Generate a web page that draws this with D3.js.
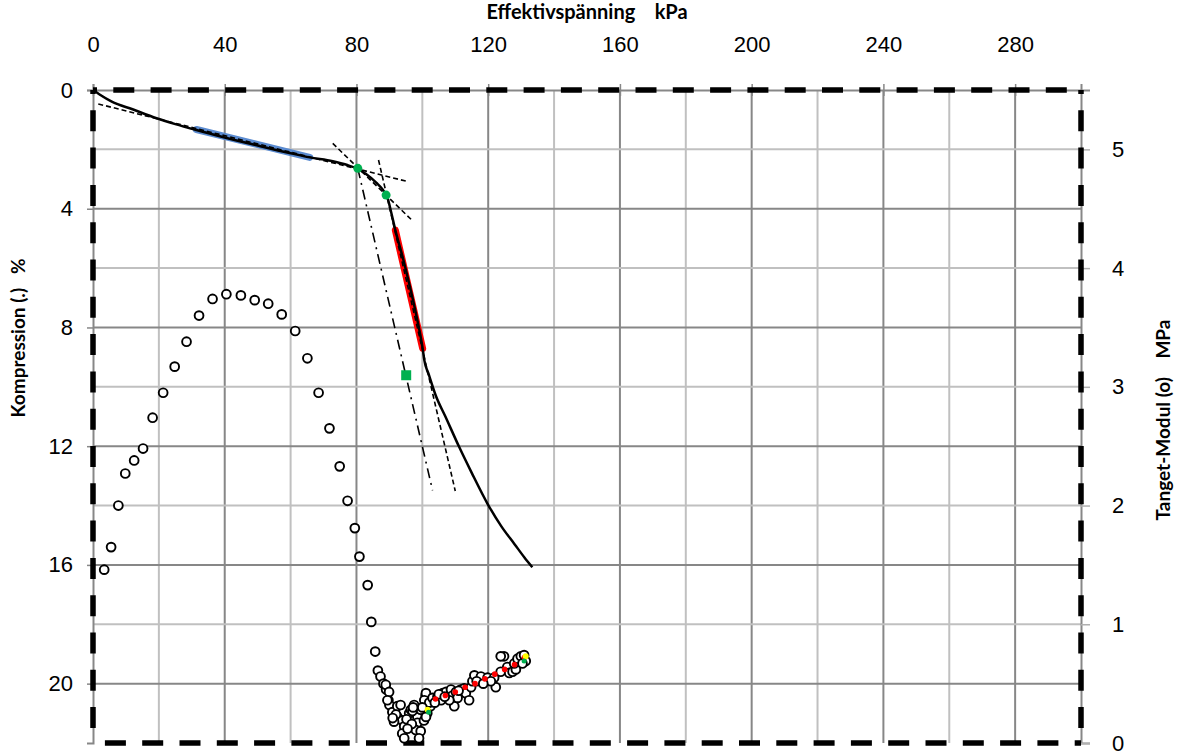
<!DOCTYPE html>
<html>
<head>
<meta charset="utf-8">
<script src="https://cdn.jsdelivr.net/npm/d3@7"></script>
<style>
  body { margin: 0; background: #fff; }
  svg { font-family: Lato, "Open Sans", sans-serif; }
</style>
</head>
<body>
<div class="main"></div>
<script>
// compression curve (kPa, %)
const curveStress = [0, 2, 5.7, 12, 19.3, 25, 31.4, 40, 50, 60, 65.8, 72.8, 77, 80.4, 83, 86, 88, 89.5, 90.5, 91.8, 94, 96, 98, 100.1, 100.6, 102, 104.1, 107, 111.2, 115, 119.8, 124, 128, 131, 133.4];
const curveComp   = [0, 0.15, 0.39, 0.65, 0.95, 1.15, 1.35, 1.6, 1.87, 2.13, 2.27, 2.4, 2.52, 2.66, 2.84, 3.12, 3.36, 3.66, 4.1, 4.72, 5.62, 6.52, 7.5, 8.71, 9.1, 9.6, 10.3, 11.0, 12.03, 12.9, 13.94, 14.7, 15.3, 15.75, 16.08];

// highlighted segments
const blueStress = [31.4, 65.8];
const blueComp   = [1.33, 2.27];
const redStress  = [91.8, 100.1];
const redComp    = [4.72, 8.71];

// construction lines
const line1Stress = [1.6, 95];     const line1Comp = [0.47, 3.07];
const line2Stress = [72.8, 96.6];  const line2Comp = [1.8, 4.36];
const line3Stress = [86.7, 110];   const line3Comp = [2.36, 13.51];
const dashDotStress = [80.4, 103.1]; const dashDotComp = [2.64, 13.49];

// green markers
const greenStress = [80.4, 89.0];
const greenComp   = [2.64, 3.54];
const squareStress = [95.1];
const squareComp   = [9.61];

// tangent modulus (kPa, MPa)
const modStress = [3.4, 5.5, 7.7, 9.8, 12.5, 15.2, 18.1, 21.3, 24.8, 28.4, 32.2, 36.3, 40.5, 44.9, 49.1, 53.2, 57.3, 61.4, 65.1, 68.5, 71.8, 74.9, 77.3, 79.5, 80.9, 83.4, 84.5, 85.7, 86.5, 87.3, 88.2, 89.0, 89.7, 90.0,
  88.9, 89.9, 89.4, 90.9, 92.4, 93.4, 92.4, 93.9, 91.4, 94.5, 93.9, 94.5, 96.0, 96.5, 97.5, 98.5, 98.5, 98.0, 99.5, 99.0, 101.0, 102.0, 102.5, 101.5, 100.5, 99.5,
  101.1, 100.6, 102.1, 101.1, 103.1, 104.6, 106.2, 107.2, 108.7, 109.2, 110.2, 109.7, 111.7, 112.7, 113.2, 114.2, 114.8, 115.2, 115.8, 110.7, 108.2, 105.7,
  117.8, 119.8, 121.8, 122.3, 120.8, 123.8, 124.8, 123.8, 125.8, 126.4, 127.4, 128.4, 127.9, 128.9, 129.9, 130.9, 131.4, 130.4,
  95.2, 96.8, 97.0, 95.5, 92.0, 91.0, 97.2, 100.0, 103.8, 105.0, 106.8, 111.0, 116.5, 118.5];
const modValue = [1.46, 1.65, 2.00, 2.27, 2.38, 2.48, 2.74, 2.95, 3.17, 3.38, 3.60, 3.74, 3.78, 3.77, 3.73, 3.70, 3.61, 3.47, 3.24, 2.95, 2.65, 2.33, 2.04, 1.81, 1.57, 1.33, 1.02, 0.77, 0.61, 0.56, 0.50, 0.45, 0.36, 0.32,
  0.49, 0.43, 0.36, 0.26, 0.31, 0.32, 0.22, 0.19, 0.18, 0.14, 0.08, 0.04, 0.25, 0.28, 0.32, 0.22, 0.17, 0.11, 0.10, 0.04, 0.40, 0.36, 0.31, 0.25, 0.19, 0.28,
  0.42, 0.36, 0.34, 0.22, 0.38, 0.39, 0.42, 0.43, 0.45, 0.40, 0.43, 0.31, 0.45, 0.46, 0.42, 0.36, 0.47, 0.52, 0.57, 0.38, 0.36, 0.36,
  0.56, 0.55, 0.55, 0.47, 0.52, 0.60, 0.73, 0.73, 0.64, 0.59, 0.60, 0.62, 0.67, 0.71, 0.73, 0.74, 0.69, 0.67,
  0.20, 0.16, 0.27, 0.12, 0.24, 0.21, 0.30, 0.30, 0.34, 0.41, 0.39, 0.44, 0.52, 0.50];

// fitted modulus points
const fitStress = [104, 107, 110, 113, 116, 119, 122, 125, 128, 131];
const fitValue  = [0.37, 0.40, 0.43, 0.47, 0.50, 0.54, 0.58, 0.62, 0.66, 0.72];
const yellowStress = [101.6, 131.4];
const yellowValue  = [0.28, 0.73];
const greenModStress = [101.9, 130.9];
const greenModValue  = [0.26, 0.69];

const xTicks = [0, 40, 80, 120, 160, 200, 240, 280];
const yLeftTicks = [0, 4, 8, 12, 16, 20];
const yRightTicks = [0, 1, 2, 3, 4, 5];

const W = 1179, H = 754;
const L = 93, R = 1081, T = 90, B = 743;

const x = d3.scaleLinear().domain([0, 300]).range([L, R]);
const yL = d3.scaleLinear().domain([0, 22]).range([T, B]);
const yR = d3.scaleLinear().domain([0, 5.5]).range([B, T]);

const svg = d3.select(".main").append("svg").attr("width", W).attr("height", H);

// grid
const grid = svg.append("g");
grid.selectAll(".gx").data(x.ticks(15).filter(d => d > 0 && d < 300)).enter().append("line")
  .attr("x1", d => x(d)).attr("x2", d => x(d)).attr("y1", T).attr("y2", B)
  .attr("stroke", d => d % 40 === 0 ? "#878787" : "#c0c0c0").attr("stroke-width", 2);
grid.selectAll(".gy").data(yL.ticks(11).filter(d => d > 0 && d < 22)).enter().append("line")
  .attr("x1", L).attr("x2", R).attr("y1", d => yL(d)).attr("y2", d => yL(d))
  .attr("stroke", d => d % 4 === 0 ? "#878787" : "#c0c0c0").attr("stroke-width", 2);

// axes
const gTop = svg.append("g").attr("transform", `translate(0,${T})`)
  .call(d3.axisTop(x).tickValues(xTicks).tickSize(6).tickPadding(32));
gTop.selectAll(".tick line").attr("y2", -6).attr("y1", 6);

const gLeft = svg.append("g").attr("transform", `translate(${L},0)`)
  .call(d3.axisLeft(yL).tickValues(yLeftTicks).tickSize(6).tickPadding(14));

const gRight = svg.append("g").attr("transform", `translate(${R},0)`)
  .call(d3.axisRight(yR).tickValues(yRightTicks).tickFormat(d3.format("d")).tickSize(9).tickPadding(22));

[gTop, gLeft, gRight].forEach(g => {
  g.select(".domain").attr("stroke", "#878787").attr("stroke-width", 2);
  g.selectAll(".tick line").attr("stroke", "#878787").attr("stroke-width", 1.5);
  g.selectAll(".tick text").attr("fill", "#000").style("font-size", "22px");
});
gRight.selectAll(".tick line").attr("stroke", "#b0b0b0");

// dashed frame
const frame = svg.append("g").attr("stroke", "#000").attr("stroke-width", 5.5)
  .attr("stroke-dasharray", "21,16.3").attr("fill", "none");
frame.append("line").attr("x1", L).attr("x2", R).attr("y1", T).attr("y2", T).attr("stroke-dashoffset", 17);
frame.append("line").attr("x1", L).attr("x2", R).attr("y1", B).attr("y2", B).attr("stroke-dashoffset", 25.4);
frame.append("line").attr("x1", L).attr("x2", L).attr("y1", T).attr("y2", B).attr("stroke-dashoffset", 17);
frame.append("line").attr("x1", R).attr("x2", R).attr("y1", T).attr("y2", B).attr("stroke-dashoffset", 17);

const lineL = d3.line().x(d => x(d[0])).y(d => yL(d[1]));
const zip = (a, b) => a.map((v, i) => [v, b[i]]);

// highlighted segments
svg.append("path").datum(zip(blueStress, blueComp)).attr("d", lineL)
  .attr("stroke", "#5b8bd0").attr("stroke-width", 7).attr("fill", "none").attr("stroke-linecap", "round");
svg.append("path").datum(zip(redStress, redComp)).attr("d", lineL)
  .attr("stroke", "#ff0000").attr("stroke-width", 7).attr("fill", "none").attr("stroke-linecap", "round");

// main curve
svg.append("path").datum(zip(curveStress, curveComp)).attr("d", lineL.curve(d3.curveMonotoneX))
  .attr("stroke", "#000").attr("stroke-width", 2.5).attr("fill", "none");
lineL.curve(d3.curveLinear);

// construction lines
[[line1Stress, line1Comp], [line2Stress, line2Comp], [line3Stress, line3Comp]].forEach(([a, b]) => {
  svg.append("path").datum(zip(a, b)).attr("d", lineL)
    .attr("stroke", "#000").attr("stroke-width", 1.6).attr("stroke-dasharray", "5,3").attr("fill", "none");
});
svg.append("path").datum(zip(dashDotStress, dashDotComp)).attr("d", lineL)
  .attr("stroke", "#000").attr("stroke-width", 1.6).attr("stroke-dasharray", "10,5,2,5").attr("fill", "none");

// green markers
svg.selectAll(".gdot").data(zip(greenStress, greenComp)).enter().append("circle")
  .attr("cx", d => x(d[0])).attr("cy", d => yL(d[1])).attr("r", 4.5).attr("fill", "#00b050");
svg.selectAll(".gsq").data(zip(squareStress, squareComp)).enter().append("rect")
  .attr("x", d => x(d[0]) - 5).attr("y", d => yL(d[1]) - 5).attr("width", 10).attr("height", 10).attr("fill", "#00b050");

// tangent modulus circles
svg.selectAll(".mod").data(zip(modStress, modValue)).enter().append("circle")
  .attr("cx", d => x(d[0])).attr("cy", d => yR(d[1])).attr("r", 4.4)
  .attr("fill", "#fff").attr("stroke", "#000").attr("stroke-width", 1.9);

svg.selectAll(".fit").data(zip(fitStress, fitValue)).enter().append("circle")
  .attr("cx", d => x(d[0])).attr("cy", d => yR(d[1])).attr("r", 2.8).attr("fill", "#ff0000");
svg.selectAll(".yel").data(zip(yellowStress, yellowValue)).enter().append("circle")
  .attr("cx", d => x(d[0])).attr("cy", d => yR(d[1])).attr("r", 3).attr("fill", "#ffff00");
svg.selectAll(".gmod").data(zip(greenModStress, greenModValue)).enter().append("circle")
  .attr("cx", d => x(d[0])).attr("cy", d => yR(d[1])).attr("r", 2.5).attr("fill", "#00b050");

// axis titles
svg.append("text").attr("x", (L + R) / 2).attr("y", 19).attr("text-anchor", "middle")
  .style("font-size", "20px").style("font-weight", "bold").attr("xml:space", "preserve")
  .text("Effektivspänning    kPa");
svg.append("text").attr("transform", "translate(25,338) rotate(-90)").attr("text-anchor", "middle")
  .style("font-size", "19px").style("font-weight", "bold").attr("xml:space", "preserve")
  .text("Kompression (.)   %");
svg.append("text").attr("transform", "translate(1170,420) rotate(-90)").attr("text-anchor", "middle")
  .style("font-size", "19px").style("font-weight", "bold").attr("xml:space", "preserve")
  .text("Tanget-Modul (o)    MPa");
</script>
</body>
</html>
